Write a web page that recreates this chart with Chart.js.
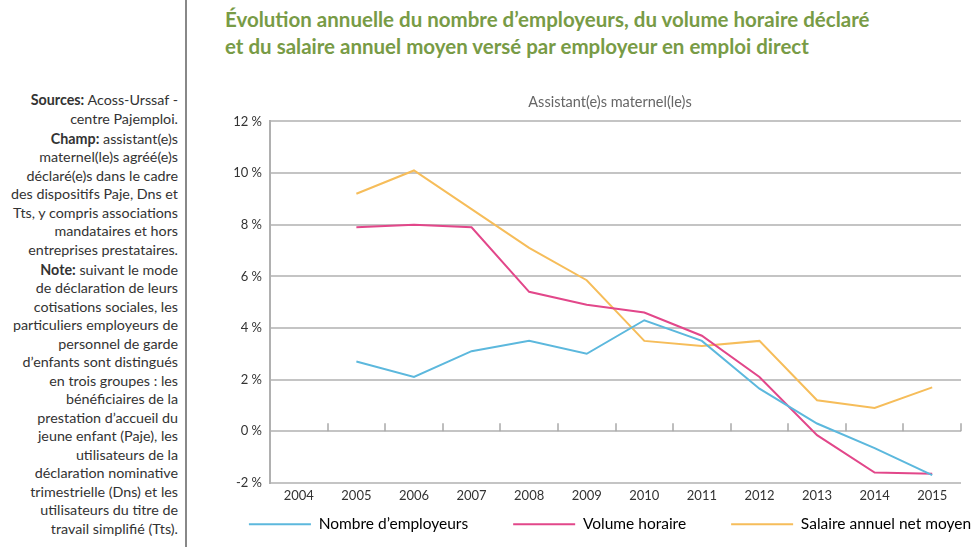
<!DOCTYPE html>
<html><head><meta charset="utf-8">
<script src="https://cdn.jsdelivr.net/npm/chart.js@4"></script>
<style>
html,body{margin:0;overflow:hidden}
body{width:976px;height:547px;background:#fff;position:relative;font-family:Lato,"DejaVu Sans",sans-serif}
#side{position:absolute;left:0;top:91px;width:178px;text-align:right;font-size:14.3px;line-height:18.5px;color:#333;white-space:nowrap;z-index:2}
#side p{margin:0 0 1.5px 0}
#sep{position:absolute;left:185px;top:0;width:2px;height:547px;background:#888}
#title{position:absolute;left:225px;top:6px;font-size:20.5px;font-weight:700;color:#789b46;line-height:27px;white-space:nowrap}
#wrap{position:absolute;left:190px;top:80px;width:840px;height:499px}
</style></head>
<body>
<div id="side">
<p><b>Sources:</b> Acoss-Urssaf -<br>centre Pajemploi.</p>
<p><b>Champ:</b> assistant(e)s<br>maternel(le)s agréé(e)s<br>déclaré(e)s dans le cadre<br>des dispositifs Paje, Dns et<br>Tts, y compris associations<br>mandataires et hors<br>entreprises prestataires.</p>
<p><b>Note:</b> suivant le mode<br>de déclaration de leurs<br>cotisations sociales, les<br>particuliers employeurs de<br>personnel de garde<br>d’enfants sont distingués<br>en trois groupes : les<br>bénéficiaires de la<br>prestation d’accueil du<br>jeune enfant (Paje), les<br>utilisateurs de la<br>déclaration nominative<br>trimestrielle (Dns) et les<br>utilisateurs du titre de<br>travail simplifié (Tts).</p>
</div>
<div id="sep"></div>
<div id="title">Évolution annuelle du nombre d’employeurs, du volume horaire déclaré<br>et du salaire annuel moyen versé par employeur en emploi direct</div>
<div id="wrap"><canvas id="c" width="840" height="499"></canvas></div>
<script>
const years = ['2004','2005','2006','2007','2008','2009','2010','2011','2012','2013','2014','2015'];
const employeurs = [null, 2.7, 2.1, 3.1, 3.5, 3.0, 4.3, 3.5, 1.65, 0.3, -0.65, -1.7];
const volumeHoraire = [null, 7.9, 8.0, 7.9, 5.4, 4.9, 4.6, 3.7, 2.1, -0.15, -1.6, -1.65];
const salaire = [null, 9.2, 10.1, 8.6, 7.1, 5.85, 3.5, 3.3, 3.5, 1.2, 0.9, 1.7];
const seriesNames = ['Nombre d’employeurs', 'Volume horaire', 'Salaire annuel net moyen'];
const yMin = -2, yMax = 12, yStep = 2;

const zeroTicks = {
  id: 'zeroTicks',
  beforeDatasetsDraw(chart) {
    const {ctx, scales: {x, y}} = chart;
    const y0 = y.getPixelForValue(0);
    ctx.save();
    ctx.strokeStyle = '#a8a8a8';
    ctx.lineWidth = 1.5;
    for (let i = 1; i <= years.length; i++) {
      const px = Math.round(x.getPixelForValue(i - 0.5));
      ctx.beginPath(); ctx.moveTo(px, y0 - 8); ctx.lineTo(px, y0); ctx.stroke();
    }
    ctx.restore();
  }
};

// lift the legend row so its wide item gaps do not push the plot up
const legendLift = {
  id: 'legendLift',
  afterLayout(chart) {
    const lg = chart.legend;
    const dy = 37;
    lg.top -= dy; lg.bottom -= dy;
  }
};

const mk = (label, data, color) => ({label, data, borderColor: color, backgroundColor: color, borderWidth: 2, pointRadius: 0, tension: 0, fill: false});

new Chart(document.getElementById('c'), {
  type: 'line',
  data: {
    labels: years,
    datasets: [
      mk(seriesNames[0], employeurs, '#5cb8dd'),
      mk(seriesNames[1], volumeHoraire, '#e2478a'),
      mk(seriesNames[2], salaire, '#f6bd5a')
    ]
  },
  options: {
    responsive: false,
    devicePixelRatio: 1,
    animation: false,
    layout: {padding: 0},
    plugins: {
      title: {display: true, text: 'Assistant(e)s maternel(le)s', color: '#666', font: {family: 'Lato', size: 14.5, weight: 'normal'}, padding: {top: 14, bottom: 10}},
      legend: {
        position: 'bottom',
        labels: {
          color: '#444', font: {family: 'Lato', size: 15.5}, boxWidth: 62, boxHeight: 2, padding: 45,
          generateLabels(chart) {
            return chart.data.datasets.map((d, i) => ({text: d.label, fillStyle: d.borderColor, strokeStyle: d.borderColor, lineWidth: 0, datasetIndex: i}));
          }
        }
      },
      tooltip: {enabled: false}
    },
    scales: {
      x: {
        offset: true,
        grid: {display: false, drawTicks: false},
        border: {display: false},
        ticks: {color: '#333', font: {family: 'Lato', size: 13}, padding: 5, maxRotation: 0}
      },
      y: {
        min: yMin, max: yMax,
        afterFit(s) { s.width = 80; },
        ticks: {stepSize: yStep, color: '#333', font: {family: 'Lato', size: 13}, padding: 8, callback: v => v + ' %'},
        grid: {color: '#c4c4c4', lineWidth: 2, drawTicks: false},
        border: {color: '#b0b0b0', width: 2}
      },
      yPad: {
        position: 'right',
        afterFit(s) { s.width = 69; },
        grid: {display: false},
        border: {display: false},
        ticks: {display: false}
      }
    }
  },
  plugins: [zeroTicks, legendLift]
});
</script>
</body></html>
